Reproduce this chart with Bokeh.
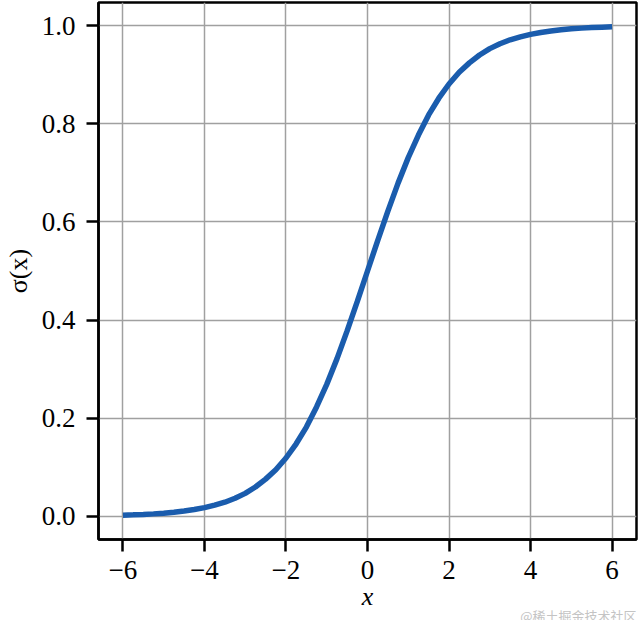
from bokeh.plotting import figure
from bokeh.models import Range1d, FixedTicker, Title
from bokeh.embed import file_html
from bokeh.resources import INLINE

# Values
x_vals = [-6, -5.75, -5.5, -5.25, -5, -4.75, -4.5, -4.25, -4, -3.75, -3.5, -3.25,
          -3, -2.75, -2.5, -2.25, -2, -1.75, -1.5, -1.25, -1, -0.75, -0.5, -0.25,
          0, 0.25, 0.5, 0.75, 1, 1.25, 1.5, 1.75, 2, 2.25, 2.5, 2.75,
          3, 3.25, 3.5, 3.75, 4, 4.25, 4.5, 4.75, 5, 5.25, 5.5, 5.75, 6]
y_vals = [0.0025, 0.0032, 0.0041, 0.0052, 0.0067, 0.0086, 0.011, 0.014, 0.018,
          0.023, 0.029, 0.037, 0.047, 0.060, 0.076, 0.095, 0.119, 0.148, 0.182,
          0.223, 0.269, 0.321, 0.378, 0.438,
          0.5, 0.562, 0.622, 0.679, 0.731, 0.777, 0.818, 0.852, 0.881, 0.905,
          0.924, 0.940, 0.953, 0.963, 0.971, 0.977, 0.982, 0.986, 0.989, 0.9914,
          0.9933, 0.9948, 0.9959, 0.9968, 0.9975]
x_ticks = [-6, -4, -2, 0, 2, 4, 6]
y_ticks = [0.0, 0.2, 0.4, 0.6, 0.8, 1.0]

FONT = "Liberation Serif"

p = figure(width=640, height=620, output_backend="svg", toolbar_location=None,
           x_range=Range1d(-6.6, 6.6), y_range=Range1d(-0.047, 1.047),
           min_border_left=97, min_border_right=4, min_border_top=2,
           min_border_bottom=81)

p.line(x_vals, y_vals, line_color="#1a5cad", line_width=5.5)

p.background_fill_color = "white"
p.border_fill_color = "white"
p.outline_line_color = "black"
p.outline_line_width = 2.5
p.outline_line_alpha = 1

for ax in (p.xaxis[0], p.yaxis[0]):
    ax.axis_line_width = 2.5
    ax.axis_line_color = "black"
    ax.major_tick_line_width = 2.5
    ax.major_tick_in = 0
    ax.major_tick_out = 12
    ax.minor_tick_line_color = None
    ax.major_label_text_font = FONT
    ax.major_label_text_font_size = "27px"
    ax.major_label_text_color = "black"
    ax.axis_label_text_font = FONT
    ax.axis_label_text_color = "black"

p.xaxis.major_label_standoff = 9
p.yaxis.major_label_standoff = 11
p.xaxis.ticker = FixedTicker(ticks=x_ticks)
p.yaxis.ticker = FixedTicker(ticks=y_ticks)
p.xaxis.major_label_overrides = {t: ("\u2212" + str(-t)) if t < 0 else str(t) for t in x_ticks}
p.yaxis.major_label_overrides = {t: f"{t:.1f}" for t in y_ticks}

p.xaxis.axis_label = "x"
p.xaxis.axis_label_text_font_style = "italic"
p.xaxis.axis_label_text_font_size = "26px"
p.xaxis.axis_label_standoff = 0
p.yaxis.axis_label = "σ(x)"
p.yaxis.axis_label_text_font_style = "normal"
p.yaxis.axis_label_text_font_size = "26px"
p.yaxis.axis_label_standoff = 6

p.xgrid.ticker = FixedTicker(ticks=x_ticks)
p.ygrid.ticker = FixedTicker(ticks=y_ticks)
p.grid.grid_line_color = "#a0a0a0"
p.grid.grid_line_width = 1.5

wm = Title(text="@稀土掘金技术社区", align="right", standoff=-20, offset=0,
           text_font="Noto Sans CJK SC", text_font_size="13px",
           text_font_style="normal", text_color="#c4c4c4")
p.add_layout(wm, "below")

open("out.html", "w").write(file_html(p, INLINE))
